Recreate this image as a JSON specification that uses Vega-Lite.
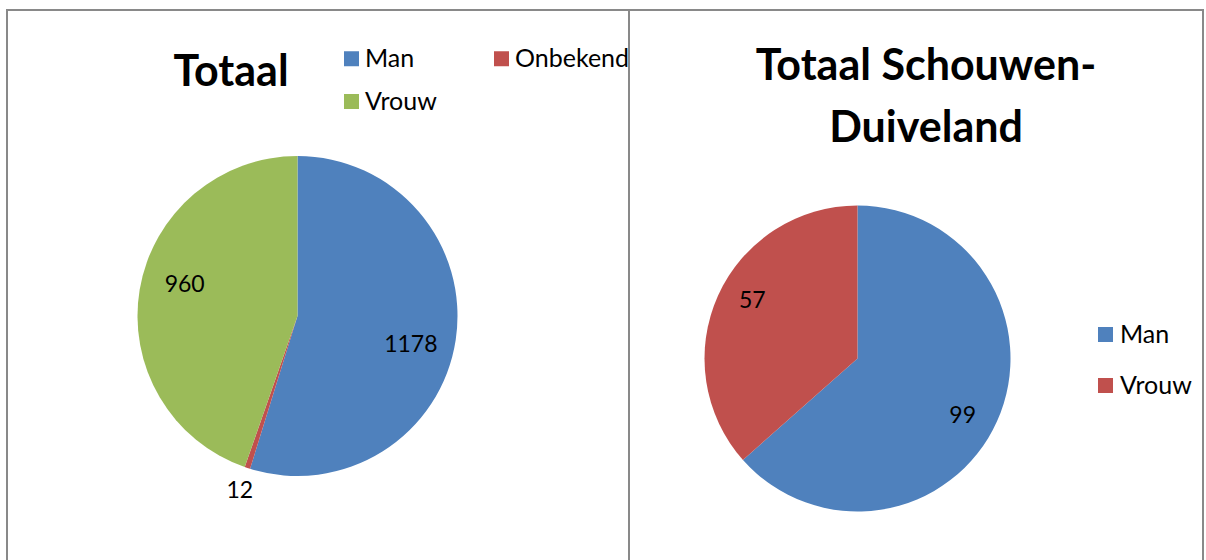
{
  "$schema": "https://vega.github.io/schema/vega-lite/v6.json",
  "padding": {"left": 6, "top": 9, "right": 0, "bottom": 0},
  "background": "white",
  "config": {
    "view": {"stroke": "#898989", "strokeWidth": 2},
    "font": "Lato",
    "concat": {"spacing": 0}
  },
  "bounds": "flush",
  "spacing": 0,
  "resolve": {"scale": {"color": "independent", "theta": "independent"}, "legend": {"color": "independent"}},
  "hconcat": [
    {
      "width": 622,
      "height": 560,
      "view": {"stroke": "#898989", "strokeWidth": 2},
      "title": {"text": "Totaal", "fontSize": 43, "fontWeight": "bold", "font": "Lato", "color": "black", "anchor": "middle", "frame": "group", "orient": "top", "baseline": "alphabetic", "offset": 0, "dx": -87, "dy": 119},
      "data": {"values": [
        {"geslacht": "Man", "aantal": 1178},
        {"geslacht": "Onbekend", "aantal": 12},
        {"geslacht": "Vrouw", "aantal": 960}
      ]},
      "encoding": {
        "theta": {"field": "aantal", "type": "quantitative", "stack": true},
        "order": {"field": "geslacht", "type": "nominal", "sort": "ascending"}
      },
      "layer": [
        {
          "mark": {"type": "arc", "outerRadius": 160, "xOffset": -20.5, "yOffset": 26},
          "encoding": {
            "color": {
              "field": "geslacht", "type": "nominal",
              "scale": {"domain": ["Man", "Onbekend", "Vrouw"], "range": ["#4F81BD", "#C0504D", "#9BBB59"]},
              "legend": {"orient": "none", "legendX": 332, "legendY": 36, "direction": "horizontal", "columns": 2, "title": null, "symbolType": "square", "symbolSize": 225, "symbolStrokeWidth": 0, "labelFontSize": 25, "labelFont": "Lato", "labelColor": "black", "labelOffset": 1, "rowPadding": 17, "columnPadding": 52, "gridAlign": "each"}
            }
          }
        },
        {
          "mark": {"type": "text", "radius": 117, "thetaOffset": 0.1, "xOffset": -20.5, "yOffset": 26, "fontSize": 23, "font": "Lato", "color": "black"},
          "encoding": {
            "text": {"condition": {"test": "datum.geslacht === 'Onbekend'", "value": ""}, "field": "aantal", "type": "quantitative"}
          }
        },
        {
          "mark": {"type": "text", "radius": 184, "xOffset": -20.5, "yOffset": 26, "fontSize": 23, "font": "Lato", "color": "black"},
          "encoding": {
            "text": {"condition": {"test": "datum.geslacht !== 'Onbekend'", "value": ""}, "field": "aantal", "type": "quantitative"}
          }
        }
      ]
    },
    {
      "width": 574,
      "height": 560,
      "view": {"stroke": "#898989", "strokeWidth": 2},
      "title": {"text": ["Totaal Schouwen-", "Duiveland"], "fontSize": 43, "fontWeight": "bold", "font": "Lato", "color": "black", "anchor": "middle", "frame": "group", "orient": "top", "baseline": "alphabetic", "offset": 0, "dx": 10, "dy": 175, "lineHeight": 62},
      "data": {"values": [
        {"geslacht": "Man", "aantal": 99},
        {"geslacht": "Vrouw", "aantal": 57}
      ]},
      "encoding": {
        "theta": {"field": "aantal", "type": "quantitative", "stack": true},
        "order": {"field": "geslacht", "type": "nominal", "sort": "ascending"}
      },
      "layer": [
        {
          "mark": {"type": "arc", "outerRadius": 153, "xOffset": -58.5, "yOffset": 68.5},
          "encoding": {
            "color": {
              "field": "geslacht", "type": "nominal",
              "scale": {"domain": ["Man", "Vrouw"], "range": ["#4F81BD", "#C0504D"]},
              "legend": {"orient": "none", "legendX": 464, "legendY": 312, "columns": 1, "title": null, "symbolType": "square", "symbolSize": 225, "symbolStrokeWidth": 0, "labelFontSize": 25, "labelFont": "Lato", "labelColor": "black", "labelOffset": 2, "rowPadding": 25}
            }
          }
        },
        {
          "mark": {"type": "text", "radius": 120, "thetaOffset": 0.08, "xOffset": -58.5, "yOffset": 68.5, "fontSize": 23, "font": "Lato", "color": "black"},
          "encoding": {
            "text": {"field": "aantal", "type": "quantitative"}
          }
        }
      ]
    }
  ]
}
